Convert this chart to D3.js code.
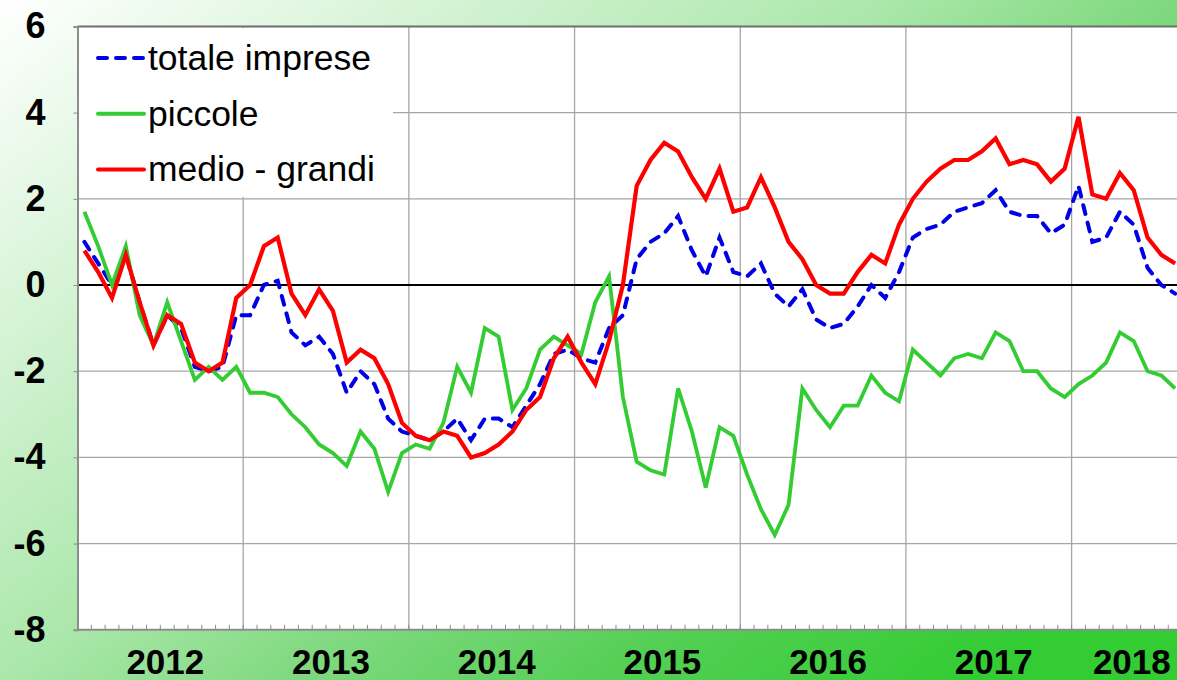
<!DOCTYPE html>
<head>
  <meta charset="utf-8">
  <script src="https://d3js.org/d3.v7.min.js"></script>
  <style>
    body {
      margin: 0;
      overflow: hidden;
    }
    text {
      font-family: "Liberation Sans", Arial, sans-serif;
    }
  </style>
</head>

<body>
  <script>
    // monthly categories, Jan 2012 - Aug 2018
    var months = d3.timeMonth.range(new Date(2012, 0, 1), new Date(2018, 8, 1));
    var years = ["2012", "2013", "2014", "2015", "2016", "2017", "2018"];
    var yTicks = [6, 4, 2, 0, -2, -4, -6, -8];

    var totaleImprese = [1.0, 0.5, 0.0, 0.7, -0.4, -1.4, -0.7, -1.0, -1.9, -2.0, -1.9, -0.7,
      -0.7, 0.0, 0.1, -1.1, -1.4, -1.2, -1.6, -2.5, -2.0, -2.3, -3.1, -3.4,
      -3.5, -3.6, -3.4, -3.1, -3.6, -3.1, -3.1, -3.3, -2.8, -2.3, -1.6, -1.5,
      -1.7, -1.8, -1.0, -0.7, 0.6, 1.0, 1.2, 1.6, 0.8, 0.2, 1.1, 0.3,
      0.2, 0.5, -0.2, -0.5, -0.1, -0.8, -1.0, -0.9, -0.5, 0.0, -0.3, 0.3,
      1.1, 1.3, 1.4, 1.7, 1.8, 1.9, 2.2, 1.7, 1.6, 1.6, 1.2, 1.4,
      2.3, 1.0, 1.1, 1.7, 1.4, 0.4, 0.0, -0.2];

    var piccole = [1.7, 0.9, 0.0, 0.9, -0.7, -1.4, -0.4, -1.3, -2.2, -1.9, -2.2, -1.9,
      -2.5, -2.5, -2.6, -3.0, -3.3, -3.7, -3.9, -4.2, -3.4, -3.8, -4.8, -3.9,
      -3.7, -3.8, -3.2, -1.9, -2.5, -1.0, -1.2, -2.9, -2.4, -1.5, -1.2, -1.4,
      -1.6, -0.4, 0.2, -2.6, -4.1, -4.3, -4.4, -2.4, -3.4, -4.7, -3.3, -3.5,
      -4.4, -5.2, -5.8, -5.1, -2.4, -2.9, -3.3, -2.8, -2.8, -2.1, -2.5, -2.7,
      -1.5, -1.8, -2.1, -1.7, -1.6, -1.7, -1.1, -1.3, -2.0, -2.0, -2.4, -2.6,
      -2.3, -2.1, -1.8, -1.1, -1.3, -2.0, -2.1, -2.4];

    var medioGrandi = [0.8, 0.3, -0.3, 0.7, -0.4, -1.4, -0.7, -0.9, -1.8, -2.0, -1.8, -0.3,
      0.0, 0.9, 1.1, -0.2, -0.7, -0.1, -0.6, -1.8, -1.5, -1.7, -2.3, -3.2,
      -3.5, -3.6, -3.4, -3.5, -4.0, -3.9, -3.7, -3.4, -2.9, -2.6, -1.7, -1.2,
      -1.8, -2.3, -1.3, 0.0, 2.3, 2.9, 3.3, 3.1, 2.5, 2.0, 2.7, 1.7,
      1.8, 2.5, 1.8, 1.0, 0.6, 0.0, -0.2, -0.2, 0.3, 0.7, 0.5, 1.4,
      2.0, 2.4, 2.7, 2.9, 2.9, 3.1, 3.4, 2.8, 2.9, 2.8, 2.4, 2.7,
      3.9, 2.1, 2.0, 2.6, 2.2, 1.1, 0.7, 0.5];

    var seriesNames = ["totale imprese", "piccole", "medio - grandi"];
    var seriesColors = ["#0000e6", "#33cc33", "#ff0000"];

    var outerWidth = 1177,
      outerHeight = 680;

    var plot = { left: 77.5, top: 26.4, bottom: 629.8, monthWidth: 13.807 };
    var plotRight = plot.left + months.length * plot.monthWidth;

    var xScale = d3.scaleBand()
      .domain(months)
      .range([plot.left, plotRight]);

    var yScale = d3.scaleLinear()
      .domain([-8, 6])
      .range([plot.bottom, plot.top]);

    var svg = d3.select("body")
      .append("svg")
      .attr("width", outerWidth)
      .attr("height", outerHeight);

    // green gradient background
    var grad = svg.append("defs").append("linearGradient")
      .attr("id", "bg")
      .attr("gradientUnits", "userSpaceOnUse")
      .attr("x1", 0).attr("y1", 0)
      .attr("x2", 766).attr("y2", 996);
    [[0, "#ffffff"], [0.43, "#abe7ab"], [0.57, "#7fd97f"], [0.72, "#55cf55"], [0.9, "#33cc33"], [1, "#33cc33"]]
      .forEach(function(s) {
        grad.append("stop").attr("offset", s[0]).attr("stop-color", s[1]);
      });

    svg.append("rect")
      .attr("width", outerWidth)
      .attr("height", outerHeight)
      .attr("fill", "url(#bg)");

    svg.append("rect")
      .attr("x", plot.left)
      .attr("y", plot.top)
      .attr("width", plotRight - plot.left)
      .attr("height", plot.bottom - plot.top)
      .attr("fill", "#ffffff");

    // horizontal gridlines
    svg.selectAll(".hgrid")
      .data(yTicks.filter(function(v) { return v !== 6 && v !== -8 && v !== 0; }))
      .enter().append("line")
      .attr("x1", plot.left).attr("x2", plotRight)
      .attr("y1", function(d) { return yScale(d); })
      .attr("y2", function(d) { return yScale(d); })
      .attr("stroke", "#a6a6a6")
      .attr("stroke-width", 1.3);

    // vertical gridlines at year boundaries
    var yearStarts = months.filter(function(m) { return m.getMonth() === 0 && m.getFullYear() > 2012; });
    svg.selectAll(".vgrid")
      .data(yearStarts)
      .enter().append("line")
      .attr("x1", function(d) { return xScale(d); })
      .attr("x2", function(d) { return xScale(d); })
      .attr("y1", plot.top).attr("y2", plot.bottom)
      .attr("stroke", "#a6a6a6")
      .attr("stroke-width", 1.3);

    // month tick marks on the bottom axis
    svg.selectAll(".mtick")
      .data(months)
      .enter().append("line")
      .attr("x1", function(d) { return xScale(d); })
      .attr("x2", function(d) { return xScale(d); })
      .attr("y1", plot.bottom - 5).attr("y2", plot.bottom)
      .attr("stroke", "#8c8c8c")
      .attr("stroke-width", 1);

    // zero line
    svg.append("line")
      .attr("x1", plot.left).attr("x2", plotRight)
      .attr("y1", yScale(0)).attr("y2", yScale(0))
      .attr("stroke", "#000")
      .attr("stroke-width", 2.2);

    // borders
    svg.append("line")
      .attr("x1", plot.left).attr("x2", plotRight)
      .attr("y1", plot.top).attr("y2", plot.top)
      .attr("stroke", "#6e6e6e").attr("stroke-width", 2);
    svg.append("line")
      .attr("x1", plot.left).attr("x2", plotRight)
      .attr("y1", plot.bottom).attr("y2", plot.bottom)
      .attr("stroke", "#8c8c8c").attr("stroke-width", 2);

    // y axis
    var yAxis = d3.axisLeft(yScale)
      .tickValues(yTicks)
      .tickSize(4)
      .tickPadding(28)
      .tickFormat(function(d) { return String(d); });

    var yAxisContainer = svg.append("g")
      .attr("transform", "translate(" + plot.left + " 0)")
      .call(yAxis);
    yAxisContainer.select(".domain").attr("stroke", "#8c8c8c").attr("stroke-width", 2);
    yAxisContainer.selectAll(".tick line").attr("stroke", "#8c8c8c");
    yAxisContainer.selectAll(".tick text")
      .attr("font-family", "'Liberation Sans', Arial, sans-serif")
      .attr("font-size", 36)
      .attr("font-weight", "bold")
      .attr("fill", "#000");

    // year labels
    svg.selectAll(".year")
      .data(years)
      .enter().append("text")
      .attr("x", function(d) {
        var ms = months.filter(function(m) { return m.getFullYear() === +d; });
        return (xScale(ms[0]) + xScale(ms[ms.length - 1]) + xScale.bandwidth()) / 2 + 5;
      })
      .attr("y", 674)
      .attr("text-anchor", "middle")
      .attr("font-size", 35)
      .attr("font-weight", "bold")
      .text(function(d) { return d; });

    // lines
    var line = d3.line()
      .x(function(d, i) { return xScale(months[i]) + xScale.bandwidth() / 2; })
      .y(function(d) { return yScale(d); });

    svg.append("path")
      .datum(totaleImprese)
      .attr("d", line)
      .attr("fill", "none")
      .attr("stroke", seriesColors[0])
      .attr("stroke-width", 4)
      .attr("stroke-dasharray", "9,9")
      .attr("stroke-linecap", "round");

    svg.append("path")
      .datum(piccole)
      .attr("d", line)
      .attr("fill", "none")
      .attr("stroke", seriesColors[1])
      .attr("stroke-width", 3.8);

    svg.append("path")
      .datum(medioGrandi)
      .attr("d", line)
      .attr("fill", "none")
      .attr("stroke", seriesColors[2])
      .attr("stroke-width", 4.2);

    // legend
    var legend = svg.append("g");
    legend.append("rect")
      .attr("x", 79).attr("y", 28)
      .attr("width", 314).attr("height", 169)
      .attr("fill", "#ffffff");

    var rows = legend.selectAll(".row")
      .data(seriesNames)
      .enter().append("g")
      .attr("transform", function(d, i) { return "translate(0 " + (58 + i * 55.7) + ")"; });

    rows.append("line")
      .attr("x1", 98).attr("x2", 144)
      .attr("y1", 0).attr("y2", 0)
      .attr("stroke", function(d, i) { return seriesColors[i]; })
      .attr("stroke-width", 4)
      .attr("stroke-linecap", "round")
      .attr("stroke-dasharray", function(d, i) { return i === 0 ? "9,9" : null; });

    rows.append("text")
      .attr("x", 148)
      .attr("y", 12)
      .attr("font-size", 35.5)
      .text(function(d) { return d; });
  </script>
</body>
